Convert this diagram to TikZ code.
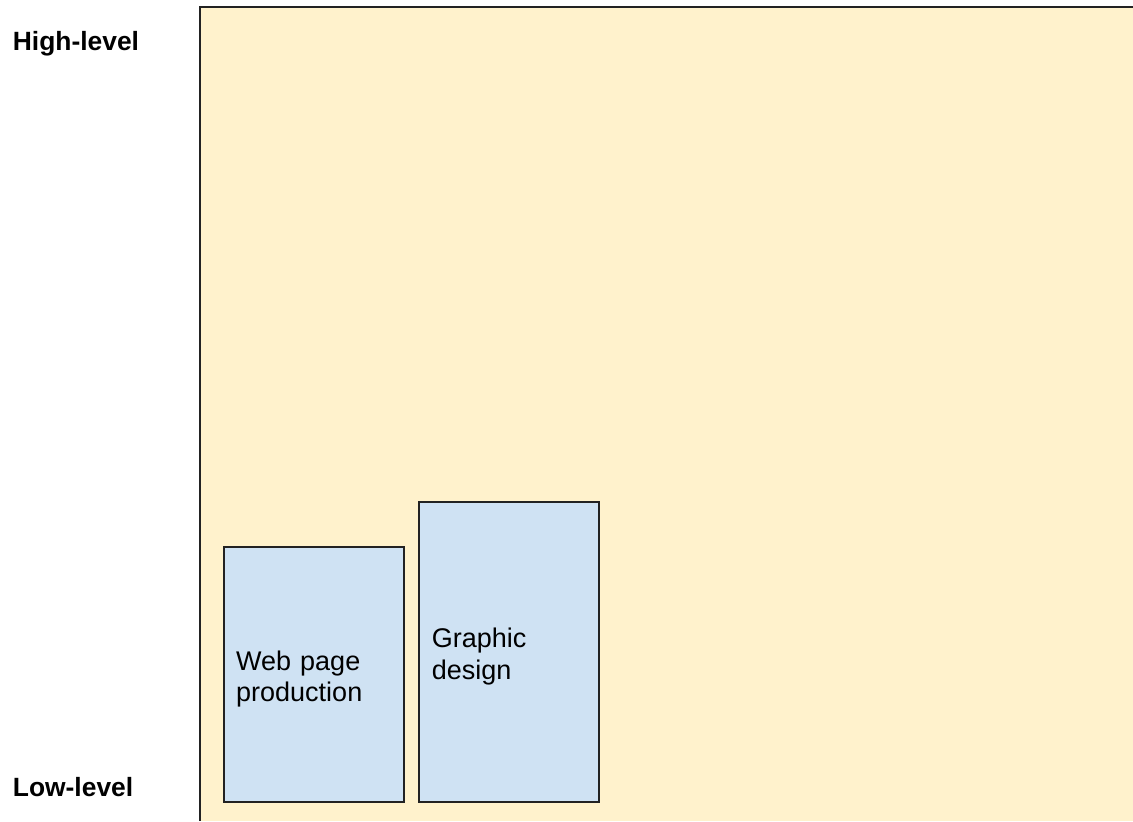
\documentclass[tikz,border=0pt]{standalone}
\usepackage{fontspec}
\setmainfont{Liberation Sans}
\definecolor{areabg}{HTML}{FFF2CC}
\definecolor{taskbg}{HTML}{CFE2F3}
\definecolor{edgecol}{HTML}{222222}
\tikzset{
  levellabel/.style={anchor=base west, inner sep=0pt, font=\fontsize{13.2}{15.8}\selectfont\bfseries},
  taskbox/.style={draw=edgecol, line width=1pt, fill=taskbg, anchor=south west,
    inner xsep=6.25pt, inner ysep=0pt, text width=77.5pt, align=left,
    font=\fontsize{13.5}{15.8}\selectfont, execute at begin node={\rule{0pt}{14.3pt}}}
}
\begin{document}
\begin{tikzpicture}[x=0.5pt,y=-0.5pt]
\useasboundingbox (0,0) rectangle (1133,821);
\fill[areabg](200,7) rectangle (1133,821);
\draw[edgecol, line width=1pt](200,821) -- (200,7) -- (1133,7);
\node (high) at (12.5,50) [levellabel]{High-level};
\node (low) at (12.5,796) [levellabel]{Low-level};
\node (web) at (222.7,802.7) [taskbox, minimum height=127.35pt]{Web page\\production};
\node (graphic) at (418.3,802.7) [taskbox, minimum height=150pt]{Graphic\\design};
\end{tikzpicture}
\end{document}
